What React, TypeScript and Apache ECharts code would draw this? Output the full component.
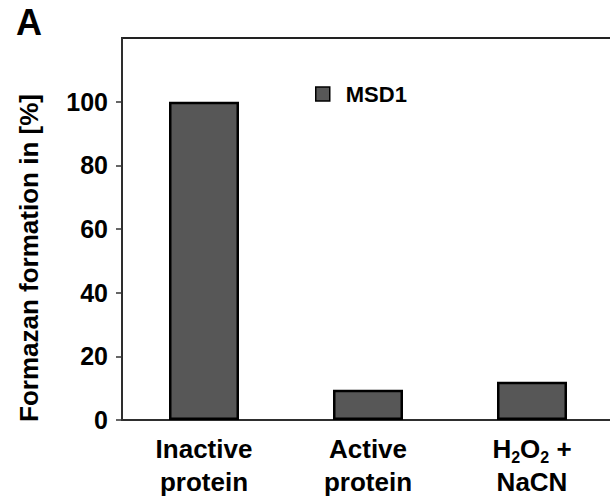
import React, { useEffect, useRef } from "react";
import * as echarts from "echarts";

const categories = ["Inactive\nprotein", "Active\nprotein", "H2O2 +\nNaCN"];
const seriesName = "MSD1";
const values = [100, 9.5, 12];
const yTicks = [0, 20, 40, 60, 80, 100];

const FONT = "'Liberation Sans', Arial, Helvetica, sans-serif";

function toRich(v: string): string {
  return v
    .split("\n")
    .map((line) =>
      line
        .split(/(\d)/)
        .filter((p) => p.length > 0)
        .map((p) => (/^\d$/.test(p) ? `{s|${p}}` : `{n|${p}}`))
        .join("")
    )
    .join("\n");
}

export default function App() {
  const ref = useRef<HTMLDivElement>(null);
  useEffect(() => {
    document.body.style.margin = "0";
    if (!ref.current) return;
    const chart = echarts.init(ref.current, undefined, { renderer: "svg" });
    chart.setOption({
      animation: false,
      backgroundColor: "#fff",
      textStyle: { fontFamily: FONT },
      grid: {
        left: 122,
        width: 492,
        top: 38,
        bottom: 81,
        containLabel: false,
        outerBoundsMode: "none",
        show: true,
        borderColor: "#222",
        borderWidth: 2,
        backgroundColor: "transparent",
      },
      legend: {
        data: [seriesName],
        left: 310,
        top: 78,
        icon: "rect",
        itemWidth: 14,
        itemHeight: 14,
        itemStyle: { borderColor: "#000", borderWidth: 1.5 },
        textStyle: {
          fontFamily: FONT,
          fontWeight: "bold",
          fontSize: 22,
          color: "#000",
          padding: [0, 0, 0, 11],
        },
      },
      graphic: [
        {
          type: "text",
          left: 16,
          top: 4,
          style: {
            text: "A",
            font: `bold 36px ${FONT}`,
            fill: "#000",
          },
        },
      ],
      xAxis: {
        type: "category",
        data: categories,
        axisLine: { lineStyle: { color: "#333", width: 1.5 } },
        axisTick: { show: false },
        axisLabel: {
          margin: 12,
          interval: 0,
          formatter: (v: string) => toRich(v),
          rich: {
            n: {
              fontFamily: FONT,
              fontWeight: "bold",
              fontSize: 26,
              lineHeight: 33,
              color: "#000",
            },
            s: {
              fontFamily: FONT,
              fontWeight: "bold",
              fontSize: 16,
              lineHeight: 18,
              verticalAlign: "bottom",
              color: "#000",
            },
          },
        },
      },
      yAxis: {
        type: "value",
        min: 0,
        max: 120,
        interval: 20,
        name: "Formazan formation in [%]",
        nameLocation: "middle",
        nameGap: 80,
        nameTextStyle: {
          fontFamily: FONT,
          fontWeight: "bold",
          fontSize: 26,
          color: "#000",
          padding: [0, 58, 0, 0],
        },
        splitLine: { show: false },
        axisLine: { show: true, lineStyle: { color: "#333", width: 1.5 } },
        axisTick: {
          show: true,
          length: 6,
          customValues: yTicks,
          lineStyle: { color: "#333", width: 1.5 },
        },
        axisLabel: {
          margin: 14,
          customValues: yTicks,
          fontFamily: FONT,
          fontWeight: "bold",
          fontSize: 25,
          color: "#000",
        },
      },
      series: [
        {
          name: seriesName,
          type: "bar",
          data: values,
          barWidth: 70,
          itemStyle: {
            color: "#575757",
            borderColor: "#000",
            borderWidth: 2.5,
          },
        },
      ],
    });
    return () => chart.dispose();
  }, []);
  return <div ref={ref} style={{ width: 610, height: 501 }} />;
}
